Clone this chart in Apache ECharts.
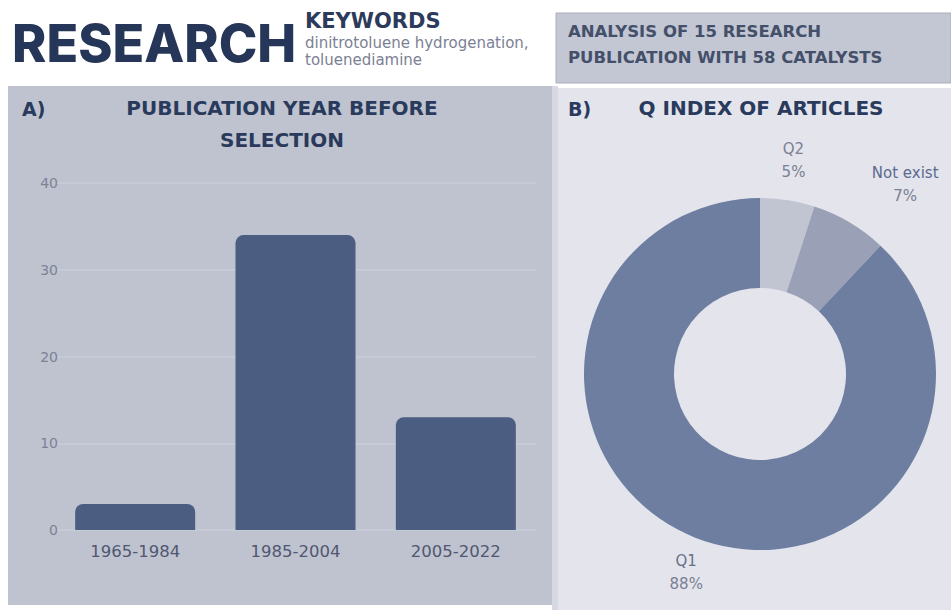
<!DOCTYPE html>
<html>
<head>
<meta charset="utf-8">
<script src="https://cdn.jsdelivr.net/npm/echarts@6/dist/echarts.min.js"></script>
<style>
  html, body { margin: 0; padding: 0; background: #ffffff; }
  #chart { width: 951px; height: 610px; }
</style>
</head>
<body>
<div id="chart"></div>
<script>
// publication year counts (panel A)
const yearRanges = ['1965-1984', '1985-2004', '2005-2022'];
const publicationCounts = [3, 34, 13];
const yTicks = [0, 10, 20, 30, 40];

// Q index shares (panel B), in percent
const qNames = ['Q2', 'Not exist', 'Q1'];
const qShares = [5, 7, 88];

const navy = '#293a5c';
const head = '"DejaVu Sans", sans-serif';
const body = '"DejaVu Sans", sans-serif';

// small nudges so the pie labels sit where the original put them
const labelNudge = [[0, -2], [17, -18], [5, 0]];

const chart = echarts.init(document.getElementById('chart'), null, { renderer: 'svg' });

const option = {
  backgroundColor: '#ffffff',
  animation: false,
  graphic: [
    // panels
    { type: 'rect', z: -10, shape: { x: 8, y: 86, width: 544, height: 519 }, style: { fill: '#bfc3cf' } },
    { type: 'rect', z: -10, shape: { x: 552, y: 86, width: 6, height: 524 }, style: { fill: '#d6d8e2' } },
    { type: 'rect', z: -10, shape: { x: 558, y: 88, width: 393, height: 522 }, style: { fill: '#e3e4ec' } },
    { type: 'rect', z: -10, shape: { x: 556, y: 13, width: 395, height: 70 }, style: { fill: '#c3c6d3', stroke: '#abafbb', lineWidth: 1 } },
    // header
    { type: 'text', left: 12, top: 17, style: { text: 'RESEARCH', font: '800 52px Inter, sans-serif', fill: '#263658' } },
    { type: 'text', left: 305, top: 10, style: { text: 'KEYWORDS', font: 'bold 21px ' + head, fill: '#2c3b5c' } },
    { type: 'text', left: 305, top: 35, style: { text: 'dinitrotoluene hydrogenation,', font: '15px ' + body, fill: '#7b8194' } },
    { type: 'text', left: 305, top: 52, style: { text: 'toluenediamine', font: '15px ' + body, fill: '#7b8194' } },
    { type: 'text', left: 568, top: 23, style: { text: 'ANALYSIS OF 15 RESEARCH', font: 'bold 16.5px ' + head, fill: '#44506a' } },
    { type: 'text', left: 568, top: 49, style: { text: 'PUBLICATION WITH 58 CATALYSTS', font: 'bold 16.5px ' + head, fill: '#44506a' } },
    // panel titles
    { type: 'text', left: 22, top: 99, style: { text: 'A)', font: 'bold 19px ' + head, fill: navy } },
    { type: 'text', x: 282, y: 98, style: { text: 'PUBLICATION YEAR BEFORE', font: 'bold 20px ' + head, fill: navy, align: 'center' } },
    { type: 'text', x: 282, y: 130, style: { text: 'SELECTION', font: 'bold 20px ' + head, fill: navy, align: 'center' } },
    { type: 'text', left: 568, top: 99, style: { text: 'B)', font: 'bold 19px ' + head, fill: navy } },
    { type: 'text', x: 761, y: 98, style: { text: 'Q INDEX OF ARTICLES', font: 'bold 20px ' + head, fill: navy, align: 'center' } }
  ],
  grid: { left: 55, right: 415, top: 183, bottom: 80 },
  xAxis: {
    type: 'category',
    data: yearRanges,
    axisLine: { show: false },
    axisTick: { show: false },
    axisLabel: { color: '#4f5870', fontFamily: body, fontSize: 16.5, margin: 13 }
  },
  yAxis: {
    type: 'value',
    min: yTicks[0],
    max: yTicks[yTicks.length - 1],
    interval: 10,
    axisLine: { show: false },
    axisTick: { show: false },
    axisLabel: { color: '#7c8296', fontFamily: body, fontSize: 14, margin: -3 },
    splitLine: { lineStyle: { color: '#c9ccd7', width: 1.5 } }
  },
  series: [
    {
      type: 'bar',
      data: publicationCounts,
      barWidth: 120,
      itemStyle: { color: '#4b5d80', borderRadius: [8, 8, 0, 0] }
    },
    {
      type: 'pie',
      center: [760, 374],
      radius: [86, 176],
      startAngle: 90,
      clockwise: true,
      data: qNames.map((n, i) => ({
        name: n,
        value: qShares[i],
        label: { rich: { n: { color: i === 1 ? '#5b6b8f' : (i === 2 ? '#6a7088' : '#7a8093') } } }
      })),
      color: ['#c1c4d1', '#9aa1b6', '#6e7ea0'],
      label: {
        position: 'outside',
        formatter: '{n|{b}}\n{p|{c}%}',
        overflow: 'none',
        distanceToLabelLine: 0,
        rich: {
          n: { fontFamily: body, fontSize: 15, lineHeight: 23, align: 'center' },
          p: { fontFamily: body, fontSize: 15, lineHeight: 23, color: '#7a8093', align: 'center' }
        }
      },
      labelLine: { show: false, length: 38, length2: 0 },
      labelLayout: (p) => ({ align: 'center', dx: labelNudge[p.dataIndex][0], dy: labelNudge[p.dataIndex][1] }),
      emphasis: { disabled: true }
    }
  ]
};

chart.setOption(option);
</script>
</body>
</html>
